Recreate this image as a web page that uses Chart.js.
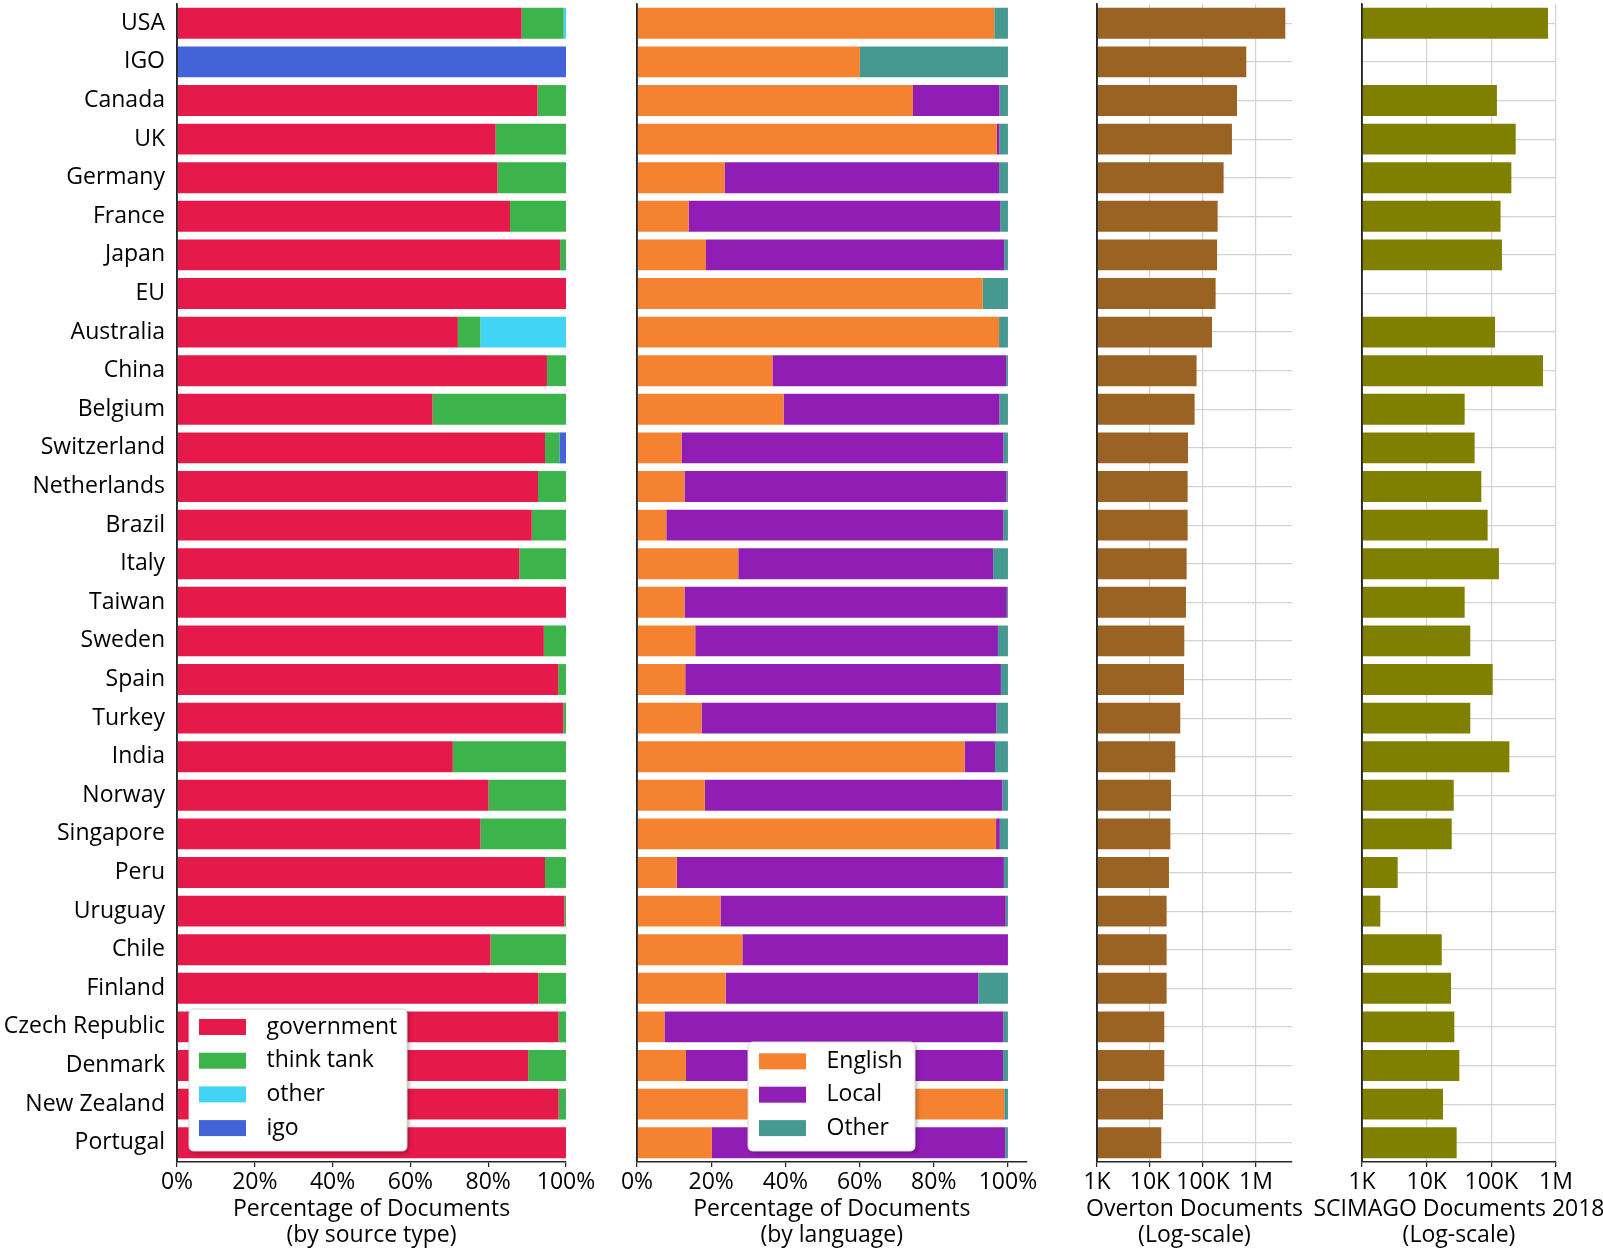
<!DOCTYPE html>
<html><head><meta charset="utf-8">
<script src="https://cdn.jsdelivr.net/npm/chart.js@4.4.1/dist/chart.umd.min.js"></script>
<style>
html,body{margin:0;padding:0;background:#fff;}
#wrap{position:relative;width:1603px;height:1249px;overflow:hidden;background:#fff;}
#wrap canvas{position:absolute;left:0;top:-30px;}
</style></head><body>
<div id="wrap">
<canvas id="c1" width="1603" height="1279"></canvas>
<canvas id="c2" width="1603" height="1279"></canvas>
<canvas id="c3" width="1603" height="1279"></canvas>
<canvas id="c4" width="1603" height="1279"></canvas>
</div>
<script>
// ---------------- DATA ----------------
const categories = ['USA','IGO','Canada','UK','Germany','France','Japan','EU','Australia','China','Belgium','Switzerland','Netherlands','Brazil','Italy','Taiwan','Sweden','Spain','Turkey','India','Norway','Singapore','Peru','Uruguay','Chile','Finland','Czech Republic','Denmark','New Zealand','Portugal'];

// Panel 1: % of documents by source type
const government = [88.6,0,92.7,81.9,82.4,85.6,98.5,100,72.2,95.1,65.7,94.6,92.8,91.2,88.0,100,94.3,98.0,99.3,70.9,80.1,78.0,94.6,99.6,80.6,92.9,98.1,90.3,98.1,100];
const thinkTank  = [10.8,0,7.3,18.1,17.6,14.4,1.5,0,5.8,4.9,34.3,3.7,7.2,8.8,12.0,0,5.7,2.0,0.7,29.1,19.9,22.0,5.4,0.4,19.4,7.1,1.9,9.7,1.9,0];
const otherSrc   = [0.6,0,0,0,0,0,0,0,22.0,0,0,0,0,0,0,0,0,0,0,0,0,0,0,0,0,0,0,0,0,0];
const igoSrc     = [0,100,0,0,0,0,0,0,0,0,0,1.7,0,0,0,0,0,0,0,0,0,0,0,0,0,0,0,0,0,0];

// Panel 2: % of documents by language
const english   = [96.3,60.1,74.4,97.0,23.6,13.9,18.6,93.2,97.6,36.5,39.5,12.0,12.8,7.9,27.3,12.8,15.7,13.0,17.4,88.3,18.3,96.8,10.7,22.5,28.4,23.9,7.4,13.2,99.0,20.2];
const localLang = [0,0,23.3,0.7,74.0,84.0,80.4,0,0,63.0,58.2,86.8,86.8,90.9,68.7,86.9,81.6,85.1,79.5,8.2,80.2,1.0,88.2,76.9,71.6,68.1,91.4,85.5,0,79.1];
const otherLang = [3.7,39.9,2.3,2.3,2.4,2.1,1.0,6.8,2.4,0.5,2.3,1.2,0.4,1.2,4.0,0.3,2.7,1.9,3.1,3.5,1.5,2.2,1.1,0.6,0,8.0,1.2,1.3,1.0,0.7];

// Panel 3: Overton documents (log scale)
const overtonDocs = [3570000,656000,438000,352000,245000,189000,184000,173000,148000,75700,69500,52100,51300,51300,49100,47700,44400,43800,37300,30000,24900,24200,22800,20600,20600,20600,18600,18600,17600,16300];

// Panel 4: SCIMAGO documents 2018 (log scale)
const scimagoDocs = [752000,null,122000,238000,204000,139000,146000,null,114000,629000,38700,55200,70000,87700,131000,38700,47300,105000,47300,190000,26200,24400,3560,1920,17100,23800,26800,32000,17900,29100];

// Tick values / labels
const pctTickValues = [0,20,40,60,80,100];
const pctTickLabels = ['0%','20%','40%','60%','80%','100%'];
const logTickValues = [1000,10000,100000,1000000];
const logTickLabels = ['1K','10K','100K','1M'];

// Axis titles
const title1 = ['Percentage of Documents','(by source type)'];
const title2 = ['Percentage of Documents','(by language)'];
const title3 = ['Overton Documents','(Log-scale)'];
const title4 = ['SCIMAGO Documents 2018','(Log-scale)'];

// ---------------- STYLE ----------------
const FONT = "'Open Sans', sans-serif";
const DARK = '#262626';
const GRID = '#d2d2d2';
const W = 1603, H = 1279, OFFY = 30;
const PLOT_TOP = 4 + OFFY, PLOT_BOTTOM = 1162 + OFFY;
const FS = 23;

function rr(ctx, x, y, w, h, r) {
  ctx.beginPath();
  ctx.moveTo(x + r, y);
  ctx.lineTo(x + w - r, y); ctx.quadraticCurveTo(x + w, y, x + w, y + r);
  ctx.lineTo(x + w, y + h - r); ctx.quadraticCurveTo(x + w, y + h, x + w - r, y + h);
  ctx.lineTo(x + r, y + h); ctx.quadraticCurveTo(x, y + h, x, y + h - r);
  ctx.lineTo(x, y + r); ctx.quadraticCurveTo(x, y, x + r, y);
  ctx.closePath();
}

const spinePlugin = {
  id: 'spine',
  afterDatasetsDraw(chart) {
    const ca = chart.chartArea, ctx = chart.ctx;
    ctx.save();
    ctx.strokeStyle = DARK; ctx.lineWidth = 1.5;
    ctx.beginPath();
    ctx.moveTo(ca.left, ca.top); ctx.lineTo(ca.left, ca.bottom);
    ctx.stroke();
    ctx.restore();
  }
};

const legendBox = {
  id: 'legendBox',
  afterDraw(chart, args, o) {
    if (!o || !o.display) return;
    const ctx = chart.ctx;
    const oy = OFFY;
    ctx.save();
    ctx.shadowColor = 'rgba(0,0,0,0.30)'; ctx.shadowBlur = 4; ctx.shadowOffsetX = 2; ctx.shadowOffsetY = 2;
    ctx.fillStyle = '#ffffff';
    rr(ctx, o.x, o.y + oy, o.w, o.h, 5); ctx.fill();
    ctx.shadowColor = 'transparent'; ctx.shadowBlur = 0; ctx.shadowOffsetX = 0; ctx.shadowOffsetY = 0;
    ctx.strokeStyle = '#d8d8d8'; ctx.lineWidth = 1; ctx.stroke();
    ctx.font = o.fontSize + 'px ' + FONT;
    ctx.textBaseline = 'middle'; ctx.textAlign = 'left';
    chart.data.datasets.forEach((ds, i) => {
      const cy = o.firstY + oy + i * o.step;
      ctx.fillStyle = ds.backgroundColor;
      ctx.fillRect(o.sqX, cy - o.sqH / 2, o.sqW, o.sqH);
      ctx.fillStyle = '#000';
      ctx.fillText(ds.label, o.textX, cy);
    });
    ctx.restore();
  }
};

const axisTitle = {
  id: 'axisTitle',
  afterDraw(chart, args, o) {
    if (!o || !o.lines) return;
    const ca = chart.chartArea, ctx = chart.ctx;
    const cx = (ca.left + ca.right) / 2;
    ctx.save();
    ctx.font = o.fontSize + 'px ' + FONT;
    ctx.fillStyle = '#000'; ctx.textAlign = 'center'; ctx.textBaseline = 'middle';
    o.lines.forEach((t, i) => ctx.fillText(t, cx, o.y + OFFY + i * o.lh));
    ctx.restore();
  }
};

function makeChart(id, cfg) {
  const isLog = cfg.log;
  const xScale = {
    type: isLog ? 'logarithmic' : 'linear',
    position: 'bottom',
    stacked: !isLog,
    min: isLog ? 1000 : 0,
    max: cfg.max,
    afterBuildTicks: s => { s.ticks = (isLog ? logTickValues : pctTickValues).map(v => ({value: v})); },
    afterFit: s => { s.height = H - PLOT_BOTTOM; },
    ticks: {
      autoSkip: false, maxRotation: 0, minRotation: 0, padding: 2, color: '#000',
      font: {family: FONT, size: FS},
      callback: (v, i) => (isLog ? logTickLabels : pctTickLabels)[i]
    },
    grid: {display: true, drawOnChartArea: isLog, drawTicks: true, tickLength: 5,
           color: GRID, lineWidth: 1.2, tickColor: DARK, tickWidth: 1.3},
    border: {display: true, color: DARK, width: 1.5}
  };
  const yScale = {
    type: 'category', position: 'left', stacked: !isLog, offset: true,
    afterFit: s => { s.width = cfg.yWidth; },
    ticks: {display: cfg.showLabels, padding: 12, color: '#000', autoSkip: false,
            font: {family: FONT, size: FS}},
    grid: {display: isLog, drawOnChartArea: true, drawTicks: false, offset: false,
           color: GRID, lineWidth: 1.2},
    border: {display: true, color: DARK, width: 1.5}
  };
  return new Chart(document.getElementById(id), {
    type: 'bar',
    data: {labels: categories, datasets: cfg.datasets.map(d => Object.assign({
      barPercentage: 0.8, categoryPercentage: 1.0, borderWidth: 0
    }, d))},
    options: {
      responsive: false, animation: false, events: [],
      indexAxis: 'y',
      layout: {padding: {left: cfg.padLeft, right: W - cfg.right, top: PLOT_TOP, bottom: 0}},
      plugins: {
        legend: {display: false}, tooltip: {enabled: false},
        legendBox: cfg.legend || {display: false},
        axisTitle: {lines: cfg.title, y: 1209, lh: 26, fontSize: FS}
      },
      scales: {x: xScale, y: yScale}
    },
    plugins: [spinePlugin, legendBox, axisTitle]
  });
}

makeChart('c1', {
  padLeft: 0, yWidth: 177, right: 566, max: 100, showLabels: true, log: false,
  title: title1,
  datasets: [
    {label: 'government', data: government, backgroundColor: '#e6194b'},
    {label: 'think tank', data: thinkTank, backgroundColor: '#3cb44b'},
    {label: 'other', data: otherSrc, backgroundColor: '#42d4f4'},
    {label: 'igo', data: igoSrc, backgroundColor: '#4363d8'}
  ],
  legend: {display: true, x: 189, y: 1009, w: 218, h: 142, sqX: 199, sqW: 47, sqH: 16,
           firstY: 1027, step: 33.7, textX: 266.5, fontSize: FS}
});

makeChart('c2', {
  padLeft: 637, yWidth: 0, right: 1026.5, max: 105, showLabels: false, log: false,
  title: title2,
  datasets: [
    {label: 'English', data: english, backgroundColor: '#f58231'},
    {label: 'Local', data: localLang, backgroundColor: '#911eb4'},
    {label: 'Other', data: otherLang, backgroundColor: '#469990'}
  ],
  legend: {display: true, x: 748, y: 1042, w: 167, h: 109, sqX: 759, sqW: 47, sqH: 16,
           firstY: 1061.3, step: 33.4, textX: 826.5, fontSize: FS}
});

makeChart('c3', {
  padLeft: 1097, yWidth: 0, right: 1292, max: 4.78e6, showLabels: false, log: true,
  title: title3,
  datasets: [{label: 'Overton Documents', data: overtonDocs, backgroundColor: '#9a6324'}]
});

makeChart('c4', {
  padLeft: 1362, yWidth: 0, right: 1556, max: 1e6, showLabels: false, log: true,
  title: title4,
  datasets: [{label: 'SCIMAGO Documents 2018', data: scimagoDocs, backgroundColor: '#808000'}]
});
</script>
</body></html>
